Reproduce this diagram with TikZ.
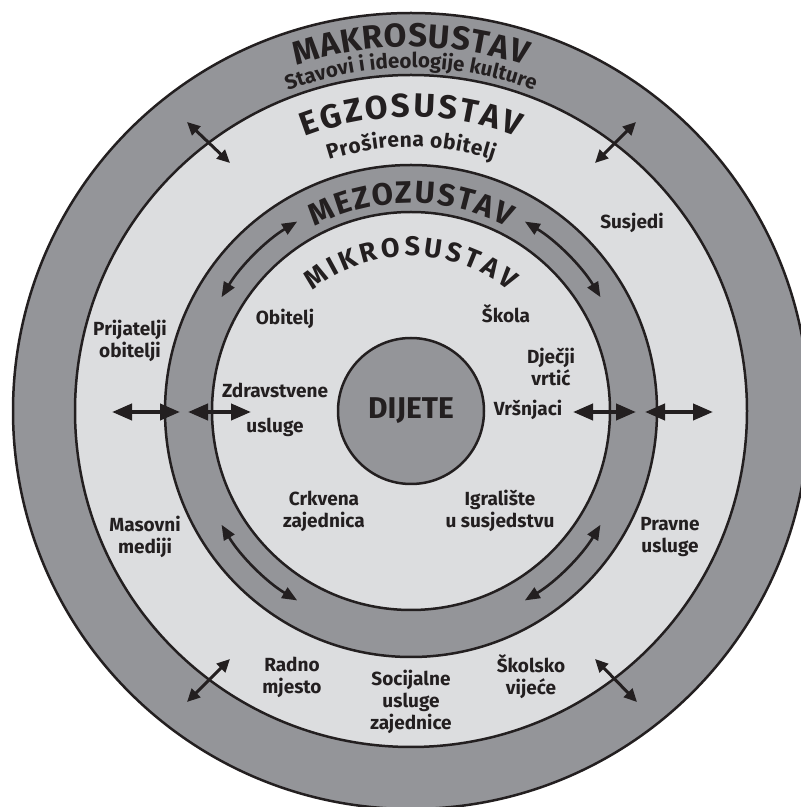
\documentclass[tikz,border=0pt]{standalone}
\usepackage{fontspec}
\setmainfont{Fira Sans}
\usetikzlibrary{arrows.meta,decorations.text}
\definecolor{ringdark}{RGB}{148,149,153}
\definecolor{ringlight}{RGB}{220,221,223}
\definecolor{inkblack}{RGB}{35,31,32}
\newcommand\kA{{\kern0.8pt}}
\newcommand\kB{{\kern1.6pt}}
\newcommand\kC{{\kern2.5pt}}
\newcommand\kD{{\kern3.6pt}}
\newcommand\kE{{\kern0.4pt}}
\begin{document}
\begin{tikzpicture}[x=1pt,y=1pt,
  ringline/.style={draw=inkblack,line width=2.5pt},
  lbl/.style={font=\bfseries\fontsize{19}{22}\selectfont,align=center,text=inkblack,inner sep=0pt},
  bigarrow/.style={draw=inkblack,line width=4pt,{Triangle[length=20pt,width=16pt]}-{Triangle[length=20pt,width=16pt]}},
  diagarrow/.style={draw=inkblack,line width=3pt,{Triangle[length=13pt,width=12pt]}-{Triangle[length=13pt,width=12pt]}},
  curvarrow/.style={draw=inkblack,line width=2.6pt,{Triangle[length=15pt,width=12pt]}-{Triangle[length=15pt,width=12pt]}},
  arctext/.style 2 args={decorate,decoration={text along path,text align=center,text={|\bfseries\fontsize{#1}{#1}\selectfont\color{inkblack}|#2}}}
]
\useasboundingbox (0,0) rectangle (801,807);
\clip (0,0) rectangle (801,807);
\fill[white] (0,0) rectangle (801,807);
\coordinate (c) at (411,396);
% rings
\path[ringline,fill=ringdark] (c) circle[radius=398];
\path[ringline,fill=ringlight] (c) circle[radius=336];
\path[ringline,fill=ringdark] (c) circle[radius=246];
\path[ringline,fill=ringlight] (c) circle[radius=199];
\node[circle,ringline,fill=ringdark,minimum size=146pt,inner sep=0pt,
  font=\bfseries\fontsize{30}{30}\selectfont,text=inkblack] (child) at (c) {DIJETE};
% curved titles
\path[arctext={33}{M\kA A\kA K\kA R\kA O\kA S\kA U\kA S\kA T\kA A\kA V}] ([shift={(160:364)}]c) arc[start angle=160,end angle=20,radius=364];
\path[arctext={20.5}{Stavovi i ideologije kulture}] ([shift={(160:343)}]c) arc[start angle=160,end angle=20,radius=343];
\path[arctext={33}{E\kC G\kC Z\kC O\kC S\kC U\kC S\kC T\kC A\kC V}] ([shift={(160:294)}]c) arc[start angle=160,end angle=20,radius=294];
\path[arctext={21}{P\kE r\kE o\kE š\kE i\kE r\kE e\kE n\kE a\kE{ }\kE o\kE b\kE i\kE t\kE e\kE l\kE j}] ([shift={(160:264)}]c) arc[start angle=160,end angle=20,radius=264];
\path[arctext={31}{M\kB E\kB Z\kB O\kB Z\kB U\kB S\kB T\kB A\kB V}] ([shift={(170:208)}]c) arc[start angle=170,end angle=10,radius=208];
\path[arctext={27}{M\kD I\kD K\kD R\kD O\kD S\kD U\kD S\kD T\kD A\kD V}] ([shift={(175:155)}]c) arc[start angle=175,end angle=5,radius=155];
% labels
\node[lbl] (susjedi) at (632,584) {Susjedi};
\node[lbl] (obitelj) at (285,488) {Obitelj};
\node[lbl] (skola) at (506,493) {Škola};
\node[lbl] (prijatelji) at (130,466) {Prijatelji\\obitelji};
\node[lbl] (vrtic) at (551,440) {Dječji\\vrtić};
\node[lbl] (zdravstvene) at (275,397) {Zdravstvene\\[13pt]usluge};
\node[lbl] (vrsnjaci) at (528,397) {Vršnjaci};
\node[lbl] (crkvena) at (324,296) {Crkvena\\zajednica};
\node[lbl] (igraliste) at (500,296) {Igralište\\u susjedstvu};
\node[lbl] (masovni) at (145,270) {Masovni\\mediji};
\node[lbl] (pravne) at (670,270) {Pravne\\usluge};
\node[lbl] (radno) at (292,130) {Radno\\mjesto};
\node[lbl] (socijalne) at (411,105) {Socijalne\\usluge\\zajednice};
\node[lbl] (skolsko) at (531,130) {Školsko\\vijeće};
% arrow end points
\coordinate (h1a) at (112,395); \coordinate (h1b) at (180,395);
\coordinate (h2a) at (188,395); \coordinate (h2b) at (251,395);
\coordinate (h3a) at (573,395); \coordinate (h3b) at (636,395);
\coordinate (h4a) at (645,395); \coordinate (h4b) at (713,395);
\coordinate (d1a) at (187,685); \coordinate (d1b) at (230,644);
\coordinate (d2a) at (636,685); \coordinate (d2b) at (595,644);
\coordinate (d3a) at (230,148); \coordinate (d3b) at (187,105);
\coordinate (d4a) at (595,148); \coordinate (d4b) at (637,105);
\coordinate (ctl) at ([shift={(121:221)}]c);
\coordinate (ctr) at ([shift={(59:221)}]c);
\coordinate (cbl) at ([shift={(211:221)}]c);
\coordinate (cbr) at ([shift={(329:221)}]c);
% arrows
\draw[bigarrow] (h1a) -- (h1b);
\draw[bigarrow] (h2a) -- (h2b);
\draw[bigarrow] (h3a) -- (h3b);
\draw[bigarrow] (h4a) -- (h4b);
\draw[diagarrow] (d1a) -- (d1b);
\draw[diagarrow] (d2a) -- (d2b);
\draw[diagarrow] (d3a) -- (d3b);
\draw[diagarrow] (d4a) -- (d4b);
\draw[curvarrow] (ctl) arc[start angle=121,end angle=149,radius=221];
\draw[curvarrow] (ctr) arc[start angle=59,end angle=31,radius=221];
\draw[curvarrow] (cbl) arc[start angle=211,end angle=239,radius=221];
\draw[curvarrow] (cbr) arc[start angle=329,end angle=301,radius=221];
\end{tikzpicture}
\end{document}
